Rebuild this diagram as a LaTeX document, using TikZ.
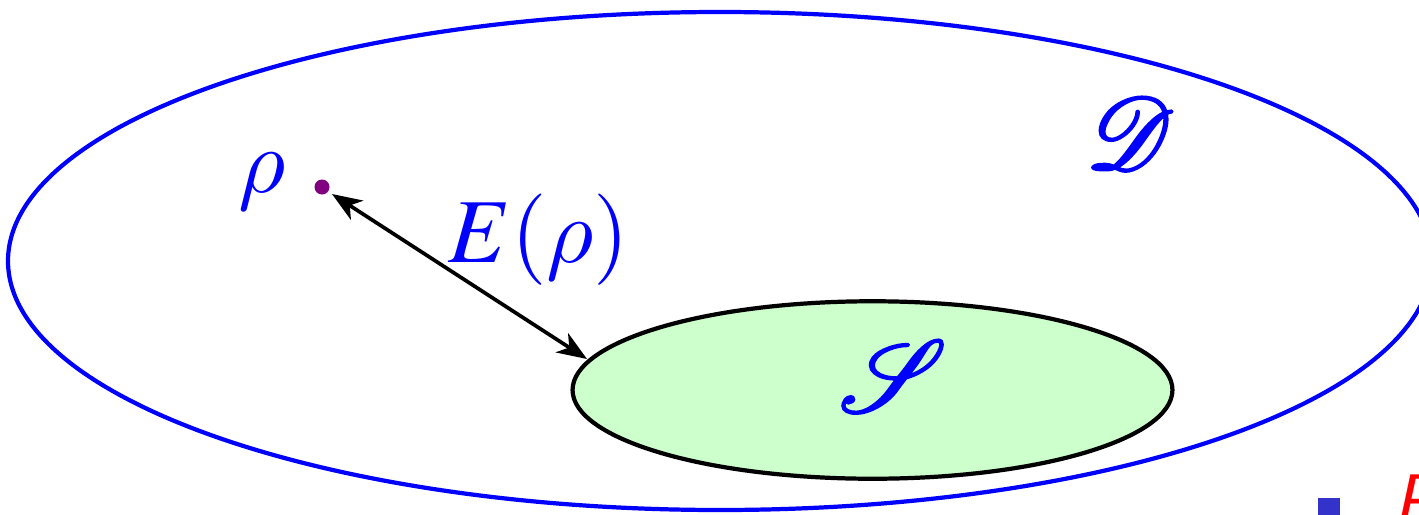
\documentclass[tikz,border=0pt]{standalone}
\usepackage{mathptmx}
\DeclareFontFamily{U}{rsfsbig}{\skewchar\font127 }
\DeclareFontShape{U}{rsfsbig}{m}{n}{<-> rsfs10}{}
\DeclareSymbolFont{bigscr}{U}{rsfsbig}{m}{n}
\DeclareSymbolFontAlphabet{\myscr}{bigscr}
\DeclareFontFamily{OML}{cmmbig}{\skewchar\font127 }
\DeclareFontShape{OML}{cmmbig}{m}{it}{<-> cmmi10}{}
\DeclareSymbolFont{bigletters}{OML}{cmmbig}{m}{it}
\DeclareMathSymbol{\bigrho}{\mathord}{bigletters}{"1A}
\newcommand{\boldstroke}[1]{\special{pdf:literal 2 Tr 1.2 w}#1\special{pdf:literal 0 Tr}}
\usetikzlibrary{arrows.meta,shapes.geometric}
\definecolor{dblue}{RGB}{0,0,255}
\definecolor{sgreen}{RGB}{204,255,204}
\definecolor{dotpurple}{RGB}{128,0,128}
\definecolor{sqblue}{RGB}{51,51,204}
\tikzset{
  outerset/.style={draw=dblue, line width=2.4pt},
  innerset/.style={draw=black, fill=sgreen, line width=2.4pt},
  lbl/.style={text=dblue, font=\fontsize{52}{56}\selectfont, inner sep=0pt},
  scrlbl/.style={text=dblue, font=\fontsize{58}{62}\selectfont, inner sep=0pt},
  distarrow/.style={draw=black, line width=2.1pt, {Stealth[length=17pt,width=13pt,inset=5pt]}-{Stealth[length=17pt,width=13pt,inset=5pt]}}
}
\begin{document}
\begin{tikzpicture}[x=0.02cm,y=-0.02cm]
\useasboundingbox (0,0) rectangle (1419,514);
\clip (0,0) rectangle (1419,514);
\draw[outerset] (720,261) ellipse [x radius=712, y radius=249];
\node[innerset, ellipse, minimum width=12.0cm, minimum height=3.55cm, inner sep=0pt] (S) at (872.5,390) {};
\fill[dotpurple] (322,187) circle (7.5);
\coordinate (rho) at (322,187);
\coordinate (sedge) at (587,359);
\draw[distarrow] ([shift={(10,7)}]rho) -- (sedge);
\node[lbl] (rholbl) at (262,182) {$\bigrho$};
\node[lbl] (Elbl) at (539,240) {$E(\bigrho)$};
\node[scrlbl] (Dlbl) at (1130,133) {\boldstroke{$\myscr{D}$}};
\node[scrlbl] (Slbl) at (893,376) {\boldstroke{$\myscr{S}$}};
\fill[sqblue] (1318,498) rectangle (1340,520);
\node[anchor=base west, text=red, font=\sffamily\itshape\fontsize{44}{48}\selectfont, inner sep=0pt] (R) at (1392,528) {R};
\end{tikzpicture}
\end{document}
